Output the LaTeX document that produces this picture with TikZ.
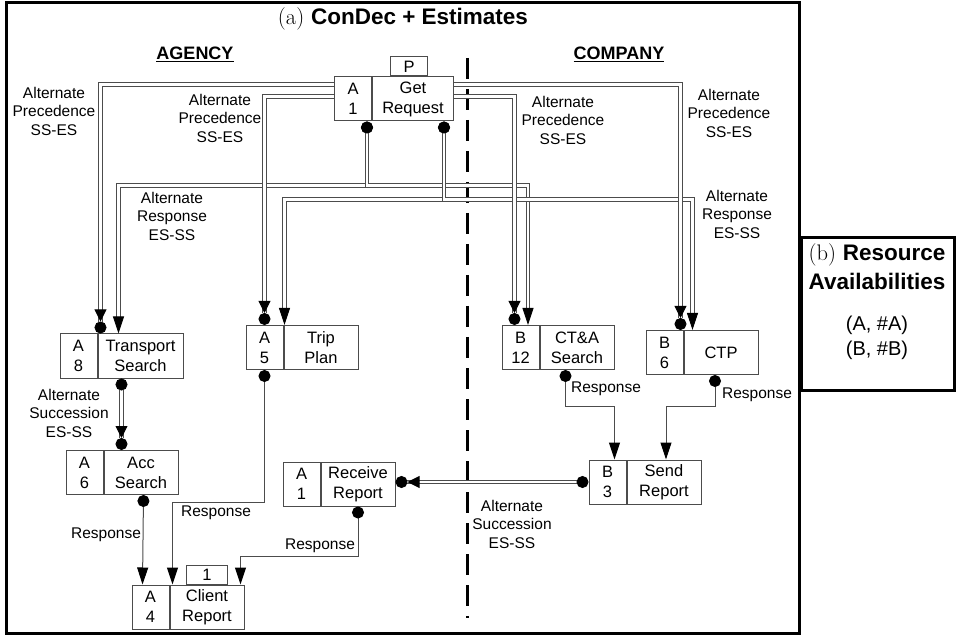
\documentclass[tikz,border=0pt]{standalone}
\usepackage{fontspec}
\setsansfont{Liberation Sans}
\usetikzlibrary{arrows.meta,positioning}
\definecolor{linecol}{gray}{0.3}
\newcommand{\nodefont}{\sffamily\fontsize{16.5}{20}\selectfont}
\newcommand{\lblfont}{\sffamily\fontsize{15.5}{18.5}\selectfont}

\begin{document}
\begin{tikzpicture}[x=1pt,y=-1pt,
        res/.style={draw=linecol, line width=1pt, minimum width=37pt, minimum height=44pt, inner sep=0pt, align=center, font=\nodefont},
        act/.style={res, minimum width=74pt},
        tag/.style={draw=linecol, line width=1pt, minimum width=37pt, minimum height=19pt, inner sep=0pt, font=\nodefont},
        lbl/.style={align=center, font=\lblfont},
        ball/.tip={Circle[length=12pt,color=black]},
        head/.tip={Triangle[length=12pt,width=12pt,color=black]},
        longhead/.tip={Triangle[length=17pt,width=11pt,color=black]},
        dbl/.style={draw=linecol, double, double distance=2.4pt, line width=0.9pt},
        altprec/.style={dbl, -{head[] ball[]}},
        altresp/.style={dbl, {ball[]}-{longhead[]}},
        altsucc/.style={dbl, {ball[]}-{head[] ball[]}},
        response/.style={draw=linecol, line width=1pt, {ball[]}-{longhead[]}},
        frame/.style={draw=black, line width=3pt}]

        \useasboundingbox (0,0) rectangle (956,636);

        \draw[frame] (6.5,3) rectangle (799.5,633);
        \draw[frame, fill=white] (801,237.5) rectangle (954,390);

        \node (title) at (403,19) {\fontsize{22.5}{26}\selectfont (a) \sffamily\bfseries ConDec + Estimates};
        \node[font=\sffamily\bfseries\fontsize{18}{20}\selectfont] (AG) at (195,54) {\underline{AGENCY}};
        \node[font=\sffamily\bfseries\fontsize{18}{20}\selectfont] (CO) at (619,54) {\underline{COMPANY}};

        \draw[line width=3pt, dash pattern=on 21pt off 10pt] (467,58) -- (467,618);

        \node[align=center, font=\fontsize{22.5}{29}\selectfont] (RA) at (877,267) {(b) \textsf{\bfseries Resource}\\\textsf{\bfseries Availabilities}};
        \node[align=center, font=\sffamily\fontsize{20}{25}\selectfont] (RV) at (877,338) {(A, \#A)\\(B, \#B)};

        % activities
        \node[res] (GRr) at (353,99) {A\\1};
        \node[act, right=0pt of GRr, minimum width=81pt] (GR) {Get\\Request};
        \node[tag, above=0pt of GR, xshift=-4pt] (GRt) {P};

        \node[res] (TSr) at (78.5,356) {A\\8};
        \node[act, right=0pt of TSr, minimum width=85pt] (TS) {Transport\\Search};

        \node[res] (TPr) at (264.5,347.5) {A\\5};
        \node[act, right=0pt of TPr] (TP) {Trip\\Plan};

        \node[res] (ASr) at (84.5,472.5) {A\\6};
        \node[act, right=0pt of ASr] (AS) {Acc\\Search};

        \node[res] (RRr) at (301.5,484) {A\\1};
        \node[act, right=0pt of RRr] (RR) {Receive\\Report};

        \node[res] (CRr) at (150.5,607) {A\\4};
        \node[act, right=0pt of CRr] (CR) {Client\\Report};
        \node[tag, above=0pt of CR, minimum width=41pt] (CRt) {1};

        \node[res] (CTr) at (520.5,347.5) {B\\12};
        \node[act, right=0pt of CTr] (CT) {CT\&A\\Search};

        \node[res] (CPr) at (664.5,352.5) {B\\6};
        \node[act, right=0pt of CPr] (CP) {CTP};

        \node[res] (SRr) at (607.5,482) {B\\3};
        \node[act, right=0pt of SRr] (SR) {Send\\Report};

        % Get Request constraints
        \draw[altresp] ([xshift=-5pt]GRr.south east) -- ++(0,64) -| ([xshift=21pt]TS.north west);
        \draw[altresp] ([xshift=-5pt]GRr.south east) -- ++(0,64) -| ([xshift=7.5pt]CTr.north);
        \draw[altresp] ([xshift=-10pt]GR.south east) -- ++(0,78) -| ([xshift=1pt]TP.north west);
        \draw[altresp] ([xshift=-10pt]GR.south east) -- ++(0,78) -| ([xshift=9pt]CP.north west);

        \draw[altprec] ([yshift=-8pt]GRr.north west) -| ([xshift=3pt]TS.north west);
        \draw[altprec] ([yshift=-20pt]GRr.north west) -| (TPr.north);
        \draw[altprec] ([yshift=-8pt]GR.north east) -| ([xshift=-3pt]CP.north west);
        \draw[altprec] ([yshift=-20pt]GR.north east) -| ([xshift=-6pt]CTr.north);

        \node[lbl] (L1) at (54,111) {Alternate\\Precedence\\SS-ES};
        \node[lbl] (L2) at (220,118) {Alternate\\Precedence\\SS-ES};
        \node[lbl] (L3) at (563,120) {Alternate\\Precedence\\SS-ES};
        \node[lbl] (L4) at (729,113) {Alternate\\Precedence\\SS-ES};
        \node[lbl] (L5) at (172,216) {Alternate\\Response\\ES-SS};
        \node[lbl] (L6) at (737,214) {Alternate\\Response\\ES-SS};

        % lower constraints
        \draw[altsucc] ([xshift=24pt]TS.south west) -- ([xshift=18pt]AS.north west);
        \node[lbl] (L7) at (69,413) {Alternate\\Succession\\ES-SS};

        \draw[response] ([xshift=40pt]AS.south west) -- ([xshift=11pt]CRr.north west);
        \node[lbl] (L8) at (106,535) {Response};

        \draw[response] (TPr.south) -- ++(0,132) -| ([xshift=3pt]CR.north west);
        \node[lbl] (L9) at (216,513) {Response};

        \draw[response] (RR.south) -- ++(0,50) -| ([xshift=-4pt]CR.north east);
        \node[lbl] (L10) at (320,546) {Response};

        \draw[altsucc] (SRr.west) -- (SRr.west -| RR.east);
        \node[lbl] (L11) at (512,524) {Alternate\\Succession\\ES-SS};

        \draw[response] ([xshift=26pt]CT.south west) -- ++(0,36) -| ([xshift=7pt]SRr.north);
        \node[lbl] (L12) at (606,389) {Response};

        \draw[response] ([xshift=-6pt]CP.south) -- ++(0,31) -| ([xshift=2pt]SR.north);
        \node[lbl] (L13) at (757,395) {Response};

\end{tikzpicture}
\end{document}
